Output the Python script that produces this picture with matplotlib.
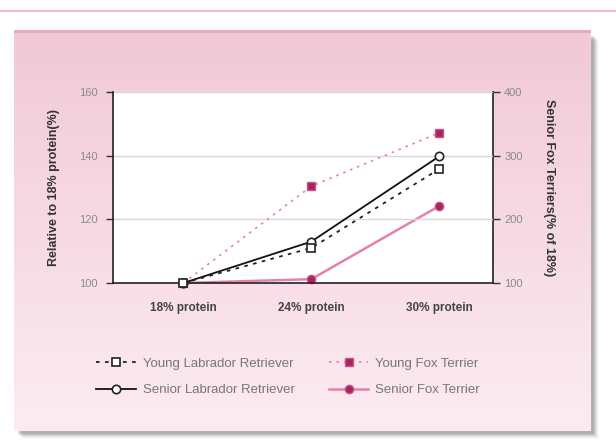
import numpy as np
import matplotlib
matplotlib.use("Agg")
import matplotlib.pyplot as plt
from matplotlib.lines import Line2D
from matplotlib.patches import Rectangle

# ---- data ----
categories = ["18% protein", "24% protein", "30% protein"]
young_lab = [100, 111, 135.8]      # left axis, % of 18%
senior_lab = [100, 113, 139.8]     # left axis, % of 18%
young_fox = [100, 130.4, 147.2]    # left axis, % of 18%
senior_fox = [100, 106, 221]       # right axis, % of 18%
left_ticks = [100, 120, 140, 160]
right_ticks = [100, 200, 300, 400]

plt.rcParams["font.family"] = ["Liberation Sans Narrow", "Liberation Sans", "DejaVu Sans"]

W, H = 616, 446
fig = plt.figure(figsize=(W / 100, H / 100), dpi=100)
fig.patch.set_facecolor("white")

def fx(px):
    return px / W

def fy(py):
    return 1 - py / H

# page rule at the top
fig.add_artist(Line2D([0, 1], [fy(11), fy(11)], color="#eeb0c8", lw=1.2,
                      transform=fig.transFigure))

# drop shadow behind the panel
bg = fig.add_axes([0, 0, 1, 1], zorder=-10)
bg.set_xlim(0, W)
bg.set_ylim(H, 0)
bg.axis("off")
for i, a in enumerate(np.linspace(0.10, 0.02, 6)):
    bg.add_patch(Rectangle((18 + i, 36 + i), 576, 398, facecolor="black",
                           alpha=a, lw=0, zorder=0))

# pink gradient panel
top = np.array([241, 200, 215]) / 255
bot = np.array([252, 236, 242]) / 255
t = np.linspace(0, 1, 200)[:, None, None]
grad = top * (1 - t) + bot * t
grad = np.repeat(grad, 2, axis=1)
bg.imshow(grad, extent=(14, 591, 431, 30), aspect="auto", zorder=1,
          interpolation="bilinear")
bg.add_patch(Rectangle((14, 30), 577, 3, facecolor="#eaa9c4", lw=0, zorder=2))

# main plot
ax = fig.add_axes([fx(113), fy(283), fx(493 - 113), (283 - 92) / H])
x = np.arange(len(categories))
ax.set_xlim(-0.55, 2.42)
ax.set_ylim(100, 160)
ax.set_yticks(left_ticks)
ax.set_xticks(x)
ax.set_xticklabels(categories, fontsize=8.5, fontweight="bold", color="#444444")
ax.tick_params(axis="x", length=0, pad=14)
ax.tick_params(axis="y", direction="out", length=5, width=1, color="#333333",
               labelsize=8, labelcolor="#8a8a8a", pad=6)
for yv in left_ticks[1:]:
    ax.axhline(yv, color="#d8d8d8", lw=1, zorder=0)
for s in ["top", "right"]:
    ax.spines[s].set_visible(False)
ax.spines["left"].set_color("#222222")
ax.spines["bottom"].set_color("#222222")
ax.spines["left"].set_linewidth(1.2)
ax.spines["bottom"].set_linewidth(1.2)
ax.set_ylabel("Relative to 18% protein(%)", fontsize=9, fontweight="bold",
              color="#333333", labelpad=14)

ax2 = ax.twinx()
ax2.set_ylim(100, 400)
ax2.set_yticks(right_ticks)
ax2.tick_params(axis="y", direction="out", length=5, width=1, color="#333333",
                labelsize=8, labelcolor="#8a8a8a", pad=3)
for s in ["top", "left", "bottom"]:
    ax2.spines[s].set_visible(False)
ax2.spines["right"].set_color("#222222")
ax2.spines["right"].set_linewidth(1.2)
ax2.set_ylabel("Senior Fox Terriers(% of 18%)", fontsize=9, fontweight="bold",
               color="#333333", rotation=-90, labelpad=23)

pink_line = "#e77fae"
mag = "#a3285f"

l_sf, = ax2.plot(x, senior_fox, color=pink_line, lw=1.8, ls="-", marker="o",
                 ms=6, mfc=mag, mec="#d0508a", mew=1, zorder=3,
                 label="Senior Fox Terrier", clip_on=False)
l_yf, = ax.plot(x, young_fox, color=pink_line, lw=1.2, ls=(0, (1.5, 3)),
                marker="s", ms=6, mfc=mag, mec="#d0508a", mew=1, zorder=4,
                label="Young Fox Terrier", clip_on=False)
l_sl, = ax.plot(x, senior_lab, color="#111111", lw=1.3, ls="-", marker="o",
                ms=6, mfc="white", mec="#222222", mew=1.2, zorder=5,
                label="Senior Labrador Retriever", clip_on=False)
l_yl, = ax.plot(x, young_lab, color="#222222", lw=1.3, ls=(0, (2, 3)),
                marker="s", ms=6, mfc="white", mec="#222222", mew=1.2, zorder=6,
                label="Young Labrador Retriever", clip_on=False)
# white plot face lives on the right-hand axes, which sits underneath
ax.patch.set_visible(False)
ax2.patch.set_visible(True)
ax2.patch.set_facecolor("white")
ax.set_zorder(2)
ax2.set_zorder(1)

leg = fig.legend(handles=[l_yl, l_sl, l_yf, l_sf], ncol=2, frameon=False,
                 loc="center", bbox_to_anchor=(fx(288), fy(377)),
                 fontsize=9.5, labelcolor="#777777", handlelength=3.0,
                 handletextpad=0.5, columnspacing=2.6, labelspacing=1.05)

fig.savefig("out.png", dpi=100, facecolor="white")
